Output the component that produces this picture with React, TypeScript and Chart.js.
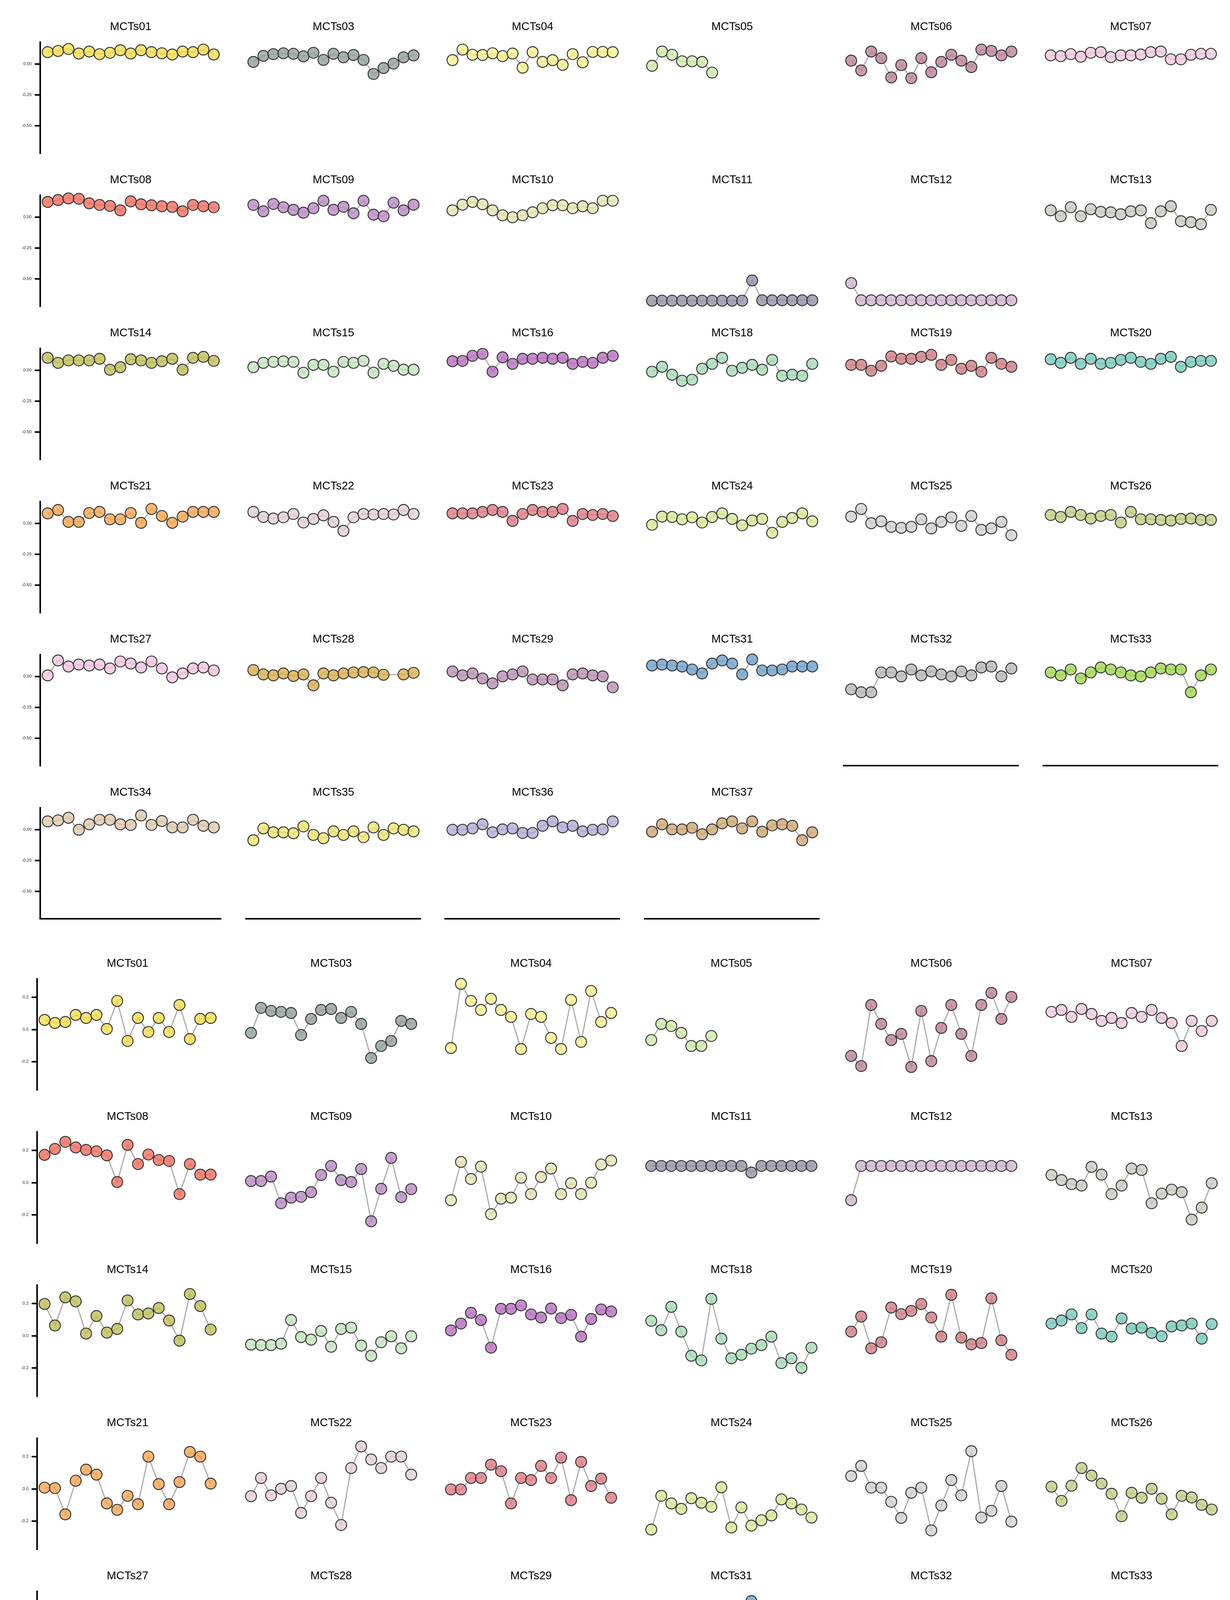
import React, { useEffect, useRef } from 'react';
import { Chart, registerables } from 'chart.js';

Chart.register(...registerables);

// facet titles, same order in all three blocks (6 per row)
const panelNames = [
  'MCTs01', 'MCTs03', 'MCTs04', 'MCTs05', 'MCTs06', 'MCTs07',
  'MCTs08', 'MCTs09', 'MCTs10', 'MCTs11', 'MCTs12', 'MCTs13',
  'MCTs14', 'MCTs15', 'MCTs16', 'MCTs18', 'MCTs19', 'MCTs20',
  'MCTs21', 'MCTs22', 'MCTs23', 'MCTs24', 'MCTs25', 'MCTs26',
  'MCTs27', 'MCTs28', 'MCTs29', 'MCTs31', 'MCTs32', 'MCTs33',
  'MCTs34', 'MCTs35', 'MCTs36', 'MCTs37',
];

// colour of the points as seen on white
const panelColors = [
  '#F6E46E', '#A8B2AD', '#FBF6A5', '#D8F0BC', '#C99AAE', '#F2D4E4',
  '#F6897C', '#C6A0CF', '#EAEAC2', '#ABA5B8', '#DAC3DA', '#D5D5CF',
  '#CBCB76', '#CFEBCB', '#C58BCB', '#B7E2C4', '#D9969A', '#91D5C8',
  '#F9B672', '#E8D8E0', '#E4949A', '#DFEEAA', '#DADADA', '#CCD79C',
  '#F8D0E6', '#E2BF6E', '#C6A6C3', '#8AB3D6', '#C5C6C3', '#B2DF72',
  '#E6D3BE', '#F0EA8A', '#C0BCDE', '#D8B88E',
];

// block 1 (top)
const block1Values: (number | null)[][] = [
  [0.097, 0.107, 0.123, 0.086, 0.102, 0.081, 0.092, 0.113, 0.086, 0.113, 0.097, 0.088, 0.078, 0.102, 0.097, 0.118, 0.078],
  [0.018, 0.067, 0.081, 0.088, 0.084, 0.063, 0.092, 0.034, 0.084, 0.055, 0.074, 0.034, -0.080, -0.032, 0.004, 0.055, 0.071],
  [0.032, 0.118, 0.076, 0.074, 0.088, 0.065, 0.086, -0.029, 0.097, 0.018, 0.032, -0.006, 0.081, 0.015, 0.099, 0.099, 0.097],
  [-0.014, 0.102, 0.076, 0.023, 0.023, 0.018, -0.069],
  [0.028, -0.051, 0.102, 0.049, -0.108, -0.008, -0.114, 0.049, -0.066, 0.018, 0.076, 0.028, -0.024, 0.118, 0.107, 0.071, 0.102],
  [0.071, 0.065, 0.081, 0.060, 0.092, 0.097, 0.057, 0.071, 0.071, 0.078, 0.097, 0.102, 0.039, 0.039, 0.076, 0.084, 0.084],
  [0.124, 0.140, 0.153, 0.150, 0.113, 0.100, 0.092, 0.056, 0.129, 0.105, 0.097, 0.089, 0.084, 0.048, 0.100, 0.089, 0.081],
  [0.100, 0.048, 0.108, 0.081, 0.060, 0.037, 0.073, 0.134, 0.060, 0.085, 0.032, 0.134, 0.021, 0.008, 0.118, 0.056, 0.102],
  [0.056, 0.102, 0.124, 0.105, 0.056, 0.016, 0.000, 0.016, 0.040, 0.073, 0.097, 0.097, 0.073, 0.089, 0.073, 0.134, 0.134],
  [-0.677, -0.677, -0.677, -0.677, -0.677, -0.677, -0.677, -0.677, -0.677, -0.677, -0.513, -0.674, -0.674, -0.674, -0.674, -0.674, -0.674],
  [-0.535, -0.674, -0.674, -0.674, -0.674, -0.674, -0.674, -0.674, -0.674, -0.674, -0.674, -0.674, -0.674, -0.674, -0.674, -0.674, -0.674],
  [0.056, 0.008, 0.081, 0.008, 0.065, 0.044, 0.040, 0.024, 0.048, 0.056, -0.048, 0.048, 0.089, -0.032, -0.040, -0.056, 0.060],
  [0.102, 0.061, 0.081, 0.081, 0.081, 0.094, 0.005, 0.026, 0.090, 0.081, 0.061, 0.074, 0.094, 0.005, 0.102, 0.110, 0.077],
  [0.026, 0.061, 0.069, 0.073, 0.069, -0.019, 0.045, 0.045, -0.011, 0.069, 0.061, 0.077, -0.019, 0.053, 0.037, 0.005, 0.005],
  [0.074, 0.077, 0.118, 0.134, -0.011, 0.106, 0.053, 0.094, 0.094, 0.102, 0.094, 0.102, 0.053, 0.069, 0.061, 0.102, 0.118],
  [-0.011, 0.029, -0.035, -0.084, -0.076, 0.013, 0.053, 0.102, -0.003, 0.021, 0.045, 0.005, 0.085, -0.044, -0.035, -0.044, 0.053],
  [0.045, 0.045, -0.003, 0.037, 0.113, 0.094, 0.094, 0.110, 0.126, 0.045, 0.085, 0.013, 0.037, -0.011, 0.102, 0.053, 0.029],
  [0.090, 0.061, 0.102, 0.053, 0.094, 0.053, 0.061, 0.085, 0.102, 0.069, 0.053, 0.094, 0.110, 0.029, 0.069, 0.077, 0.077],
  [0.082, 0.110, 0.013, 0.013, 0.085, 0.094, 0.034, 0.034, 0.085, 0.005, 0.118, 0.061, 0.005, 0.056, 0.094, 0.094, 0.094],
  [0.094, 0.053, 0.040, 0.050, 0.077, 0.008, 0.037, 0.066, 0.013, -0.060, 0.050, 0.077, 0.073, 0.077, 0.073, 0.110, 0.077],
  [0.082, 0.082, 0.082, 0.094, 0.110, 0.094, 0.021, 0.077, 0.110, 0.094, 0.094, 0.118, 0.021, 0.077, 0.069, 0.077, 0.061],
  [-0.011, 0.056, 0.053, 0.034, 0.050, 0.008, 0.053, 0.082, 0.037, -0.015, 0.024, 0.037, -0.076, 0.013, 0.045, 0.082, 0.018],
  [0.056, 0.118, 0.002, 0.018, -0.027, -0.035, -0.027, 0.034, -0.040, 0.013, 0.050, -0.019, 0.061, -0.052, -0.040, 0.013, -0.095],
  [0.069, 0.053, 0.094, 0.069, 0.040, 0.061, 0.069, 0.008, 0.094, 0.034, 0.034, 0.029, 0.024, 0.037, 0.040, 0.029, 0.029],
  [0.010, 0.131, 0.082, 0.098, 0.090, 0.098, 0.066, 0.123, 0.106, 0.074, 0.123, 0.066, -0.006, 0.026, 0.066, 0.074, 0.050],
  [0.053, 0.018, 0.010, 0.026, 0.005, 0.018, -0.071, 0.026, 0.010, 0.026, 0.034, 0.037, 0.034, 0.015, null, 0.018, 0.031],
  [0.042, 0.010, 0.026, -0.015, -0.055, 0.002, 0.018, 0.042, -0.023, -0.023, -0.023, -0.071, 0.018, 0.026, 0.010, 0.002, -0.087],
  [0.090, 0.098, 0.090, 0.082, 0.058, 0.026, 0.106, 0.131, 0.106, 0.018, 0.139, 0.050, 0.050, 0.058, 0.082, 0.082, 0.082],
  [-0.103, -0.127, -0.127, 0.034, 0.034, 0.002, 0.058, 0.010, 0.042, 0.018, 0.002, 0.042, 0.010, 0.074, 0.082, 0.002, 0.066],
  [0.034, 0.010, 0.058, -0.015, 0.034, 0.074, 0.058, 0.034, 0.010, 0.002, 0.034, 0.066, 0.058, 0.058, -0.127, 0.010, 0.058],
  [0.068, 0.076, 0.097, 0.000, 0.044, 0.081, 0.081, 0.044, 0.039, 0.116, 0.039, 0.071, 0.019, 0.019, 0.081, 0.032, 0.019],
  [-0.085, 0.011, -0.021, -0.021, -0.029, 0.027, -0.042, -0.069, -0.013, -0.042, -0.013, -0.061, 0.019, -0.042, 0.011, 0.000, -0.013],
  [0.000, 0.000, 0.011, 0.044, -0.021, 0.003, 0.011, -0.026, -0.026, 0.032, 0.068, 0.019, 0.032, -0.013, 0.000, 0.003, 0.068],
  [-0.016, 0.044, 0.003, 0.003, 0.016, -0.037, 0.003, 0.052, 0.068, 0.011, 0.068, -0.016, 0.035, 0.044, 0.032, -0.085, -0.021],
];

// block 2 (middle)
const block2Values: (number | null)[][] = [
  [0.060, 0.041, 0.047, 0.091, 0.072, 0.091, 0.004, 0.178, -0.071, 0.072, -0.015, 0.072, -0.015, 0.153, -0.059, 0.066, 0.072],
  [-0.021, 0.135, 0.116, 0.110, 0.103, -0.034, 0.066, 0.122, 0.128, 0.072, 0.110, 0.035, -0.177, -0.102, -0.071, 0.054, 0.035],
  [-0.115, 0.284, 0.178, 0.122, 0.191, 0.122, 0.079, -0.121, 0.097, 0.079, -0.052, -0.121, 0.184, -0.077, 0.240, 0.047, 0.103],
  [-0.065, 0.035, 0.022, -0.021, -0.102, -0.102, -0.040],
  [-0.164, -0.227, 0.153, 0.035, -0.065, -0.027, -0.233, 0.116, -0.196, 0.010, 0.153, -0.027, -0.164, 0.153, 0.228, 0.066, 0.203],
  [0.110, 0.122, 0.079, 0.128, 0.097, 0.054, 0.072, 0.041, 0.103, 0.079, 0.122, 0.072, 0.041, -0.102, 0.054, -0.009, 0.054],
  [0.173, 0.210, 0.254, 0.219, 0.204, 0.195, 0.170, 0.004, 0.235, 0.116, 0.175, 0.141, 0.135, -0.071, 0.116, 0.050, 0.050],
  [0.010, 0.010, 0.038, -0.128, -0.093, -0.088, -0.059, 0.048, 0.104, 0.016, 0.004, 0.085, -0.240, -0.038, 0.154, -0.090, -0.040],
  [-0.109, 0.129, 0.023, 0.100, -0.196, -0.100, -0.093, 0.031, -0.071, 0.035, 0.088, -0.071, -0.003, -0.071, 0.000, 0.113, 0.138],
  [0.104, 0.104, 0.104, 0.104, 0.104, 0.104, 0.104, 0.104, 0.104, 0.104, 0.063, 0.104, 0.104, 0.104, 0.104, 0.104, 0.104],
  [-0.109, 0.104, 0.104, 0.104, 0.104, 0.104, 0.104, 0.104, 0.104, 0.104, 0.104, 0.104, 0.104, 0.104, 0.104, 0.104, 0.104],
  [0.048, 0.016, -0.009, -0.018, 0.098, 0.050, -0.071, -0.018, 0.088, 0.079, -0.128, -0.068, -0.043, -0.059, -0.230, -0.155, -0.003],
  [0.198, 0.064, 0.239, 0.214, 0.014, 0.123, 0.020, 0.043, 0.220, 0.133, 0.139, 0.173, 0.095, -0.030, 0.260, 0.185, 0.039],
  [-0.055, -0.058, -0.058, -0.049, 0.098, -0.008, -0.024, 0.030, -0.068, 0.043, 0.051, -0.061, -0.124, -0.040, -0.003, -0.078, -0.003],
  [0.033, 0.076, 0.143, 0.098, -0.074, 0.168, 0.168, 0.189, 0.133, 0.114, 0.170, 0.110, 0.130, -0.005, 0.105, 0.164, 0.151],
  [0.093, 0.035, 0.180, 0.026, -0.124, -0.153, 0.230, -0.018, -0.140, -0.118, -0.080, -0.058, -0.005, -0.170, -0.140, -0.199, -0.074],
  [0.026, 0.120, -0.078, -0.040, 0.176, 0.135, 0.155, 0.198, 0.114, -0.005, 0.255, -0.011, -0.053, -0.045, 0.233, -0.028, -0.118],
  [0.076, 0.095, 0.133, 0.048, 0.133, 0.014, -0.005, 0.108, 0.045, 0.051, 0.018, -0.003, 0.058, 0.064, 0.076, -0.018, 0.073],
  [0.008, 0.005, -0.158, 0.051, 0.120, 0.089, -0.090, -0.130, -0.043, -0.095, 0.201, 0.030, -0.095, 0.043, 0.230, 0.201, 0.033],
  [-0.045, 0.068, -0.040, 0.001, 0.018, -0.149, -0.045, 0.068, -0.086, -0.224, 0.130, 0.264, 0.183, 0.130, 0.201, 0.201, 0.089],
  [-0.003, -0.003, 0.068, 0.068, 0.151, 0.110, -0.090, 0.068, 0.055, 0.143, 0.068, 0.195, -0.070, 0.168, 0.018, 0.064, -0.055],
  [-0.253, -0.043, -0.090, -0.124, -0.058, -0.086, -0.111, 0.010, -0.240, -0.115, -0.228, -0.195, -0.165, -0.065, -0.090, -0.128, -0.178],
  [0.080, 0.143, 0.008, 0.008, -0.080, -0.180, -0.024, 0.008, -0.258, -0.103, 0.055, -0.040, 0.235, -0.178, -0.136, 0.018, -0.203],
  [0.014, -0.074, 0.020, 0.130, 0.083, 0.033, -0.030, -0.170, -0.024, -0.055, 0.001, -0.061, -0.158, -0.043, -0.053, -0.099, -0.128],
  [0.105, 0.178, -0.064, 0.090, 0.043, 0.058, -0.026, 0.133, 0.068, -0.076, 0.058, 0.011, -0.008, -0.176, -0.005, -0.073, -0.164],
  [-0.120, -0.214, -0.110, -0.248, -0.183, -0.248, -0.220, -0.264, -0.273, -0.258, -0.248, -0.101, -0.220, -0.223, null, -0.201, -0.205],
  [-0.060, -0.018, -0.110, -0.183, -0.089, 0.036, 0.074, -0.060, -0.098, -0.098, -0.160, -0.260, -0.068, -0.214, -0.098, -0.101, -0.273],
  [0.065, 0.124, 0.165, -0.014, -0.014, 0.033, 0.149, 0.145, 0.103, -0.005, 0.255, -0.085, -0.008, 0.028, 0.030, 0.040, 0.118],
  [-0.214, -0.230, -0.248, -0.080, -0.110, -0.176, -0.085, 0.018, 0.018, -0.005, 0.008, 0.043, 0.020, 0.099, 0.136, -0.089, 0.070],
  [0.008, 0.053, 0.043, -0.130, -0.005, -0.005, 0.043, 0.008, -0.110, 0.068, 0.018, 0.018, -0.064, -0.020, -0.226, -0.123, -0.033],
  [0.002, -0.107, -0.039, -0.170, -0.055, 0.002, 0.192, -0.047, 0.020, 0.052, -0.201, 0.055, -0.172, -0.107, 0.020, 0.036, 0.024],
  [-0.344, -0.201, -0.242, -0.269, -0.279, -0.055, -0.269, -0.304, -0.300, -0.126, -0.219, -0.201, -0.130, -0.213, -0.126, -0.126, -0.182],
  [0.020, -0.017, -0.170, 0.020, -0.055, -0.126, -0.185, -0.145, -0.155, -0.247, -0.039, -0.195, -0.007, -0.151, -0.151, -0.107, 0.077],
  [-0.020, 0.036, 0.027, -0.060, -0.107, -0.042, -0.057, 0.061, 0.052, -0.122, 0.180, -0.105, -0.051, 0.020, 0.070, -0.042, -0.007],
];

// block 3 (bottom)
const block3Values: (number | null)[][] = [
  [-0.101, -0.103, -0.039, -0.057, -0.057, 0.042, -0.107, -0.116, -0.026, -0.153, -0.170, -0.101, -0.014, 0.021, -0.076, -0.039, -0.007],
  [0.024, 0.042, 0.071, 0.113, 0.151, 0.105, 0.089, 0.105, 0.151, 0.105, 0.196, -0.070, -0.116, -0.036, 0.148, 0.121, 0.155],
  [-0.074, 0.021, 0.148, 0.042, 0.074, -0.020, -0.020, -0.170, 0.049, -0.066, -0.014, -0.128, 0.059, 0.017, 0.080, -0.016, 0.071],
  [0.034, 0.021, -0.045, -0.020, -0.138, 0.076, -0.070],
  [-0.219, 0.111, 0.042, 0.171, -0.036, -0.041, -0.041, 0.148, -0.020, 0.198, 0.064, -0.070, -0.007, -0.045, 0.151, 0.005, 0.055],
  [0.158, 0.126, 0.049, 0.155, 0.017, 0.080, 0.130, 0.123, 0.186, 0.204, 0.084, 0.108, 0.096, 0.024, 0.173, 0.155, -0.039],
  [0.247, 0.302, 0.309, 0.322, 0.202, 0.293, 0.168, 0.227, 0.289, 0.287, 0.274, 0.118, 0.147, 0.156, 0.147, 0.162, 0.224],
  [-0.062, -0.006, -0.106, -0.027, -0.162, -0.168, -0.110, -0.110, 0.010, -0.115, -0.143, 0.010, -0.047, 0.027, -0.162, 0.075, -0.140],
  [-0.047, -0.002, -0.072, 0.000, -0.087, -0.214, -0.087, -0.122, -0.052, -0.044, 0.006, -0.010, -0.140, -0.118, -0.037, 0.002, 0.062],
  [0.006, 0.006, 0.006, 0.006, 0.006, 0.006, 0.006, 0.006, 0.006, 0.006, -0.122, 0.006, 0.006, 0.006, 0.006, 0.006, 0.006],
  [-0.006, 0.010, 0.010, 0.010, 0.010, 0.010, 0.010, 0.010, 0.010, 0.010, 0.010, 0.010, 0.010, 0.010, 0.010, 0.010, 0.010],
  [-0.006, -0.060, -0.085, -0.110, -0.025, -0.212, 0.118, 0.081, -0.072, 0.015, 0.075, -0.056, 0.112, -0.140, 0.006, -0.019, 0.000],
  [-0.025, 0.072, -0.062, -0.042, -0.121, -0.117, -0.117, -0.030, -0.040, -0.027, 0.004, 0.047, -0.084, -0.146, 0.012, 0.107, 0.047],
  [-0.017, 0.097, 0.047, 0.041, 0.012, -0.167, -0.080, -0.040, -0.162, -0.050, -0.075, -0.075, -0.152, 0.007, -0.152, -0.142, -0.175],
  [0.035, -0.009, 0.103, 0.060, -0.002, 0.107, -0.052, 0.057, 0.035, -0.025, 0.025, 0.075, 0.000, 0.066, 0.054, 0.010, -0.050],
  [0.060, -0.117, 0.075, -0.121, -0.102, -0.077, 0.075, -0.077, -0.071, -0.115, -0.034, -0.115, -0.096, -0.158, -0.152, -0.239, -0.177],
  [-0.067, -0.175, -0.187, -0.042, -0.027, -0.052, -0.075, 0.007, -0.084, -0.002, 0.060, 0.060, -0.108, -0.055, 0.000, -0.055, -0.117],
  [0.020, -0.080, -0.080, -0.133, -0.059, -0.050, -0.208, -0.100, -0.100, -0.090, -0.162, -0.050, -0.090, -0.150, -0.121, -0.233, -0.200],
  [0.016, -0.040, -0.217, 0.047, 0.057, -0.096, -0.015, -0.175, -0.002, -0.075, -0.034, 0.016, -0.067, 0.010, 0.004, -0.021, -0.071],
  [0.022, 0.029, 0.050, 0.020, -0.127, 0.016, -0.009, 0.020, -0.012, -0.012, 0.062, 0.045, 0.020, 0.050, 0.147, 0.016, 0.066],
  [-0.096, -0.108, -0.055, -0.077, -0.055, -0.108, -0.100, -0.080, -0.192, -0.121, -0.180, -0.027, -0.221, -0.090, -0.102, -0.155, -0.180],
  [0.062, 0.170, 0.047, 0.004, -0.108, 0.137, 0.035, 0.007, 0.029, 0.087, 0.187, 0.041, 0.016, 0.103, 0.153, 0.000, -0.062],
  [-0.130, -0.090, -0.102, -0.202, -0.052, -0.237, -0.212, -0.002, 0.141, -0.015, -0.015, -0.059, -0.059, -0.092, -0.162, -0.042, -0.167],
  [-0.065, -0.204, 0.032, 0.037, -0.175, -0.102, -0.130, -0.121, 0.066, -0.005, 0.047, -0.146, 0.037, 0.025, 0.054, 0.107, 0.022],
  [0.076, 0.045, -0.104, -0.049, -0.086, -0.107, -0.077, 0.010, 0.063, 0.017, -0.045, -0.077, -0.082, -0.119, -0.086, -0.061, -0.049],
  [0.231, 0.318, 0.142, 0.387, 0.269, 0.256, 0.107, 0.381, 0.350, 0.368, 0.362, 0.325, 0.238, 0.250, null, 0.353, 0.346],
  [0.042, 0.150, 0.070, 0.109, 0.057, 0.063, 0.001, 0.076, 0.134, 0.080, 0.134, 0.067, 0.035, 0.080, 0.080, 0.142, 0.080],
  [-0.052, 0.020, 0.080, -0.045, -0.073, -0.015, 0.088, -0.042, -0.098, -0.098, -0.040, -0.042, -0.005, -0.102, -0.024, -0.045, 0.088],
  [-0.030, -0.095, -0.027, 0.109, 0.072, -0.061, 0.001, 0.045, 0.026, 0.032, 0.026, 0.051, 0.007, -0.042, 0.080, 0.051, 0.051],
  [-0.011, -0.067, -0.098, -0.216, -0.160, -0.045, -0.160, -0.073, -0.027, -0.024, -0.231, -0.198, -0.098, -0.169, -0.095, -0.219, -0.219],
  [-0.022, 0.059, 0.032, -0.035, 0.011, -0.022, -0.108, -0.027, 0.049, 0.067, -0.002, -0.071, -0.071, -0.150, 0.002, -0.019, -0.150],
  [0.057, 0.101, 0.046, 0.186, 0.087, 0.132, 0.093, 0.027, 0.142, 0.062, 0.168, 0.024, 0.154, 0.103, 0.233, 0.247, 0.165],
  [-0.200, -0.168, -0.097, -0.158, -0.046, -0.181, -0.019, -0.062, -0.038, -0.061, -0.019, -0.084, -0.057, -0.002, 0.008, -0.071, 0.032],
  [0.122, 0.215, 0.118, 0.178, 0.199, 0.108, 0.130, 0.160, 0.184, 0.130, 0.199, 0.022, 0.095, 0.138, 0.118, 0.142, 0.062],
];

const block1Ticks = [0, -0.25, -0.5];
const block1TickLabels = ['0.00', '-0.25', '-0.50'];
const block2Ticks = [0.2, 0, -0.2];
const block2TickLabels = ['0.2', '0.0', '-0.2'];
const block3Ticks = [0.4, 0.2, 0, -0.2];
const block3TickLabels = ['0.4', '0.2', '0.0', '-0.2'];

const block1Range = [-0.7225, 0.178];
const block2Range = [-0.375, 0.315];
const block3Range = [-0.274, 0.414];

// layout (pixels)
const TITLE_H = 56;
const PLOT_H = 284;
const PLOT_W = 480;
const PAD_B = 18;
const FONT = "'Liberation Sans', Arial, sans-serif";

const blocks = [
  { values: block1Values, ticks: block1Ticks, labels: block1TickLabels, range: block1Range, top: 108, rowPitch: 392, axisLeft: 103, colPitch: 510.5 },
  { values: block2Values, ticks: block2Ticks, labels: block2TickLabels, range: block2Range, top: 2506, rowPitch: 392, axisLeft: 95, colPitch: 512.5 },
  { values: block3Values, ticks: block3Ticks, labels: block3TickLabels, range: block3Range, top: 4902, rowPitch: 391, axisLeft: 95, colPitch: 512.5 },
];

// the reference colours are seen through alpha 0.8 on white
function unblend(hex: string, alpha = 0.8) {
  const n = parseInt(hex.slice(1), 16);
  const ch = [(n >> 16) & 255, (n >> 8) & 255, n & 255].map((c) =>
    Math.max(0, Math.min(255, Math.round((c - 255 * (1 - alpha)) / alpha)))
  );
  return `rgba(${ch[0]}, ${ch[1]}, ${ch[2]}, ${alpha})`;
}

type PanelProps = {
  name: string;
  color: string;
  values: (number | null)[];
  range: number[];
  ticks: number[];
  labels: string[];
  showY: boolean;
  showX: boolean;
  left: number;
  top: number;
  width: number;
  axisW: number;
};

const Panel: React.FC<PanelProps> = (p) => {
  const canvasRef = useRef<HTMLCanvasElement | null>(null);
  const height = TITLE_H + PLOT_H + PAD_B;

  useEffect(() => {
    if (!canvasRef.current) return;
    const chart = new Chart(canvasRef.current, {
      type: 'line',
      data: {
        datasets: [
          {
            data: p.values.map((v, i) => ({ x: i, y: v })),
            borderColor: '#ababab',
            borderWidth: 3,
            pointRadius: 14,
            pointHoverRadius: 14,
            pointBackgroundColor: unblend(p.color),
            pointBorderColor: '#333333',
            pointBorderWidth: 2.4,
            spanGaps: true,
            clip: false,
            tension: 0,
            fill: false,
          },
        ],
      },
      options: {
        responsive: false,
        animation: false,
        devicePixelRatio: 1,
        events: [],
        layout: { padding: { top: 0, bottom: PAD_B, left: 0, right: 0 } },
        plugins: {
          legend: { display: false },
          tooltip: { enabled: false },
          title: {
            display: true,
            text: p.name,
            fullSize: false,
            color: '#000',
            font: { family: FONT, size: 29, weight: 'normal', lineHeight: 1.2 },
            padding: { top: 0, bottom: TITLE_H - 29 * 1.2 },
          },
        },
        scales: {
          x: {
            type: 'linear',
            min: -0.72,
            max: 16.72,
            display: true,
            grid: { display: false, drawTicks: false },
            ticks: { display: false },
            border: { display: p.showX, width: 4, color: '#000' },
          },
          y: {
            type: 'linear',
            min: p.range[0],
            max: p.range[1],
            display: p.showY,
            afterBuildTicks: (s: any) => {
              s.ticks = p.ticks.map((v) => ({ value: v }));
            },
            afterFit: (s: any) => {
              if (p.showY) s.width = p.axisW;
            },
            ticks: {
              callback: (_v: any, i: number) => p.labels[i],
              font: { family: FONT, size: 11 },
              color: '#222',
              padding: 8,
            },
            grid: {
              display: true,
              drawOnChartArea: false,
              drawTicks: true,
              tickLength: 14,
              tickWidth: 4,
              lineWidth: 4,
              color: '#000',
              tickColor: '#000',
            },
            border: { display: true, width: 4, color: '#000' },
          },
        },
      },
    } as any);
    return () => chart.destroy();
  }, []);

  return (
    <canvas
      ref={canvasRef}
      width={p.width}
      height={height}
      style={{ position: 'absolute', left: p.left, top: p.top, width: p.width, height }}
    />
  );
};

const App: React.FC = () => {
  const panels: React.ReactNode[] = [];
  blocks.forEach((blk, b) => {
    blk.values.forEach((vals, k) => {
      const row = Math.floor(k / 6);
      const col = k % 6;
      const isBottom = row === 5 || (row === 4 && col >= 4);
      const plotLeft = Math.round(blk.axisLeft + col * blk.colPitch);
      const axisTop = Math.round(blk.top + row * blk.rowPitch);
      const first = col === 0;
      panels.push(
        <Panel
          key={`${b}-${k}`}
          name={panelNames[k]}
          color={panelColors[k]}
          values={vals}
          range={blk.range}
          ticks={blk.ticks}
          labels={blk.labels}
          showY={first}
          showX={isBottom}
          left={first ? 0 : plotLeft}
          top={axisTop - TITLE_H}
          width={first ? plotLeft + PLOT_W : PLOT_W}
          axisW={first ? plotLeft : 0}
        />
      );
    });
  });

  return (
    <div
      style={{
        position: 'absolute',
        left: 0,
        top: 0,
        width: 3150,
        height: 7200,
        background: '#fff',
        overflow: 'hidden',
      }}
    >
      {panels}
    </div>
  );
};

export default App;
